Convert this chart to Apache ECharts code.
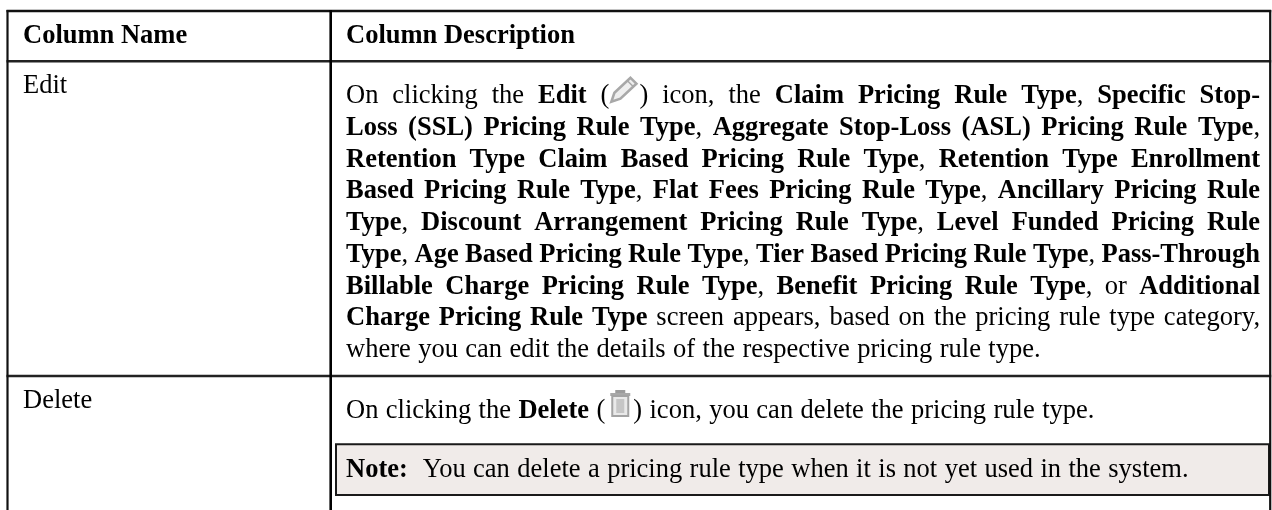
<!DOCTYPE html>
<html><head><meta charset="utf-8">
<style>html,body{margin:0;padding:0;background:#fff}#c{width:1272px;height:510px}</style>
<script src="https://cdn.jsdelivr.net/npm/echarts@6/dist/echarts.min.js"></script>
</head><body><div id="c"></div>
<script>
var headerCells = ["Column Name", "Column Description"];
var rowNames = ["Edit", "Delete"];
// **bold** markup; {pencil} and {trash} are icons
var editLines = [
 "On clicking the **Edit** ({pencil}) icon, the **Claim Pricing Rule Type**, **Specific Stop-**",
 "**Loss (SSL) Pricing Rule Type**, **Aggregate Stop-Loss (ASL) Pricing Rule Type**,",
 "**Retention Type Claim Based Pricing Rule Type**, **Retention Type Enrollment**",
 "**Based Pricing Rule Type**, **Flat Fees Pricing Rule Type**, **Ancillary Pricing Rule**",
 "**Type**, **Discount Arrangement Pricing Rule Type**, **Level Funded Pricing Rule**",
 "**Type**, **Age Based Pricing Rule Type**, **Tier Based Pricing Rule Type**, **Pass-Through**",
 "**Billable Charge Pricing Rule Type**, **Benefit Pricing Rule Type**, or **Additional**",
 "**Charge Pricing Rule Type** screen appears, based on the pricing rule type category,",
 "where you can edit the details of the respective pricing rule type."
];
var deleteLine = "On clicking the **Delete** ({trash}) icon, you can delete the pricing rule type.";
var noteLine = "**Note:**  You can delete a pricing rule type when it is not yet used in the system.";

var FS = 26.5, FAM = '"Liberation Serif"', BASE = 20, SPX = 0.8;
var X0 = 346, X1 = 1260, PITCH = 31.75;
var ICON = {pencil: 30, trash: 28};
var ctx = document.createElement('canvas').getContext('2d');
function w(t, b){ ctx.font = (b?'bold ':'') + FS + 'px ' + FAM; return ctx.measureText(t).width; }

function tokens(line){
  var out = [], bold = false;
  line.split('**').forEach(function(part){
    part.split(/(\{[a-z]+\}|\s+)/).forEach(function(p){
      if(!p) return;
      if(/^\s+$/.test(p)) out.push({sp:true, n:p.length});
      else if(p[0]==='{') out.push({icon:p.slice(1,-1)});
      else out.push({t:p, b:bold});
    });
    bold = !bold;
  });
  return out;
}
var els = [];
function txt(t, x, y, b){
  els.push({type:'text', x:x, y:y-BASE, style:{text:t, fill:'#000', font:(b?'bold ':'') + FS + 'px ' + FAM}, silent:true});
}
function layout(line, y, justify){
  var tk = tokens(line), used = 0, gaps = 0, spw = w(' ', false);
  tk.forEach(function(k){
    if(k.sp){ gaps += k.n; used += k.n*spw; }
    else if(k.icon) used += ICON[k.icon];
    else used += w(k.t,k.b);
  });
  var sp = justify ? spw + (X1-X0-used)/gaps : spw + SPX, x = X0;
  tk.forEach(function(k){
    if(k.sp){ x += k.n*sp; }
    else if(k.icon){ drawIcon(k.icon, x, y); x += ICON[k.icon]; }
    else { txt(k.t, x, y, k.b); x += w(k.t,k.b); }
  });
}
function drawIcon(name, x, y){
  if(name==='pencil'){
    els.push({type:'polygon', x:x+1, y:y-27, shape:{points:[[1,26],[4,17],[20,2],[26,8],[10,23]]}, style:{fill:'#efefef', stroke:'#a8a8a8', lineWidth:2.6}, silent:true});
    els.push({type:'line', x:x+1, y:y-27, shape:{x1:17,y1:5,x2:23,y2:11}, style:{stroke:'#a8a8a8', lineWidth:1.5}, silent:true});
  } else {
    els.push({type:'rect', x:x+10, y:y-28, shape:{width:10,height:3}, style:{fill:'#9c9c9c'}, silent:true});
    els.push({type:'rect', x:x+5, y:y-25, shape:{width:20,height:3}, style:{fill:'#a8a8a8'}, silent:true});
    els.push({type:'rect', x:x+7, y:y-22, shape:{width:16,height:20}, style:{fill:'#e9e9e9', stroke:'#a3a3a3', lineWidth:2}, silent:true});
    els.push({type:'rect', x:x+11, y:y-19, shape:{width:8,height:14}, style:{fill:'#c6c6c6'}, silent:true});
  }
}
function hline(x1,x2,y,c,lw){ els.push({type:'line', shape:{x1:x1,y1:y,x2:x2,y2:y}, style:{stroke:c,lineWidth:lw}, silent:true}); }
function vline(x,y1,y2,c,lw){ els.push({type:'line', shape:{x1:x,y1:y1,x2:x,y2:y2}, style:{stroke:c,lineWidth:lw}, silent:true}); }

// Note background
els.push({type:'rect', shape:{x:336,y:444.3,width:933,height:50.7}, style:{fill:'#f0ebe9', stroke:'#1a1a1a', lineWidth:2}, silent:true});
// Table rules
var L=7.5, M=330.7, R=1270.2;
hline(L-1,R+1,11,'#111',2.4);
hline(L-1,R+1,61.3,'#222',2.6);
hline(L-1,R+1,376,'#222',2.6);
vline(L,10,510,'#111',2.2); vline(M,10,510,'#000',2.6); vline(R,10,510,'#111',2.2);
// Header and row labels
txt(headerCells[0], 23, 43, true);
txt(headerCells[1], X0, 43, true);
txt(rowNames[0], 23, 93, false);
txt(rowNames[1], 23, 408, false);
editLines.forEach(function(l,i){ layout(l, 102.7+i*PITCH, i<8); });
layout(deleteLine, 418, false);
layout(noteLine, 476.5, false);

var chart = echarts.init(document.getElementById('c'), null, {renderer:'canvas'});
chart.setOption({backgroundColor:'#fff', animation:false, graphic:{elements:els}});
</script></body></html>
